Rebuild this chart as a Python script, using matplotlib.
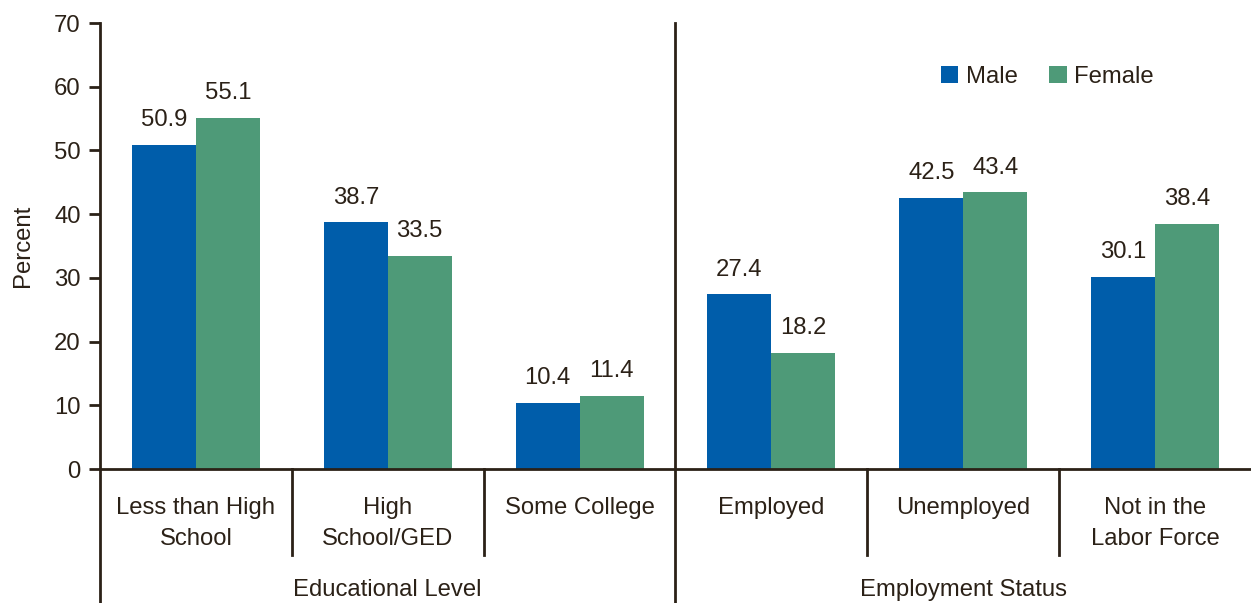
import matplotlib.pyplot as plt
import numpy as np

plt.rcParams['font.family'] = ['Liberation Sans', 'DejaVu Sans']

categories = ['Less than High\nSchool', 'High\nSchool/GED', 'Some College',
              'Employed', 'Unemployed', 'Not in the\nLabor Force']
groups = ['Educational Level', 'Employment Status']
male = [50.9, 38.7, 10.4, 27.4, 42.5, 30.1]
female = [55.1, 33.5, 11.4, 18.2, 43.4, 38.4]

ink = '#2b2117'
blue = '#005daa'
green = '#4e9a78'
fs = 17.2

fig = plt.figure(figsize=(12.51, 6.03), dpi=100)
ax = fig.add_axes([100/1251, 134/603, 1151/1251, 446/603])

x = np.arange(len(categories))
w = 1/3
ax.bar(x - w/2, male, width=w, color=blue, label='Male')
ax.bar(x + w/2, female, width=w, color=green, label='Female')

for xi, m, f in zip(x, male, female):
    ax.annotate(f'{m:.1f}', (xi - w/2, m), xytext=(0, 10), textcoords='offset points',
                ha='center', va='bottom', fontsize=fs, color=ink)
    ax.annotate(f'{f:.1f}', (xi + w/2, f), xytext=(0, 10), textcoords='offset points',
                ha='center', va='bottom', fontsize=fs, color=ink)

ax.set_xlim(-0.5, len(categories) - 0.5)
ax.set_ylim(0, 70)
ax.set_yticks(range(0, 71, 10))
ax.set_xticks([])
ax.tick_params(axis='y', direction='out', length=8, width=2, color=ink,
               labelsize=fs, labelcolor=ink, pad=6)
ax.set_ylabel('Percent', fontsize=fs, color=ink, labelpad=14)

for s in ['top', 'right']:
    ax.spines[s].set_visible(False)
for s in ['left', 'bottom']:
    ax.spines[s].set_color(ink)
    ax.spines[s].set_linewidth(2)

trans = ax.get_xaxis_transform()
# extended left spine and group separators
ax.plot([-0.5, -0.5], [0, -0.31], transform=trans, color=ink, lw=2, clip_on=False)
ax.plot([2.5, 2.5], [1, -0.31], transform=trans, color=ink, lw=2, clip_on=False)
for b in [0.5, 1.5, 3.5, 4.5]:
    ax.plot([b, b], [0, -0.193], transform=trans, color=ink, lw=2, clip_on=False)

for xi, c in zip(x, categories):
    ax.text(xi, -0.062, c, transform=trans, ha='center', va='top', fontsize=fs,
            color=ink, linespacing=1.55)
for gx, g in zip([1, 4], groups):
    ax.text(gx, -0.272, g, transform=trans, ha='center', va='center', fontsize=fs,
            color=ink)

ax.legend(loc='center left', bbox_to_anchor=(0.722, 0.879), ncol=2, frameon=False,
          fontsize=fs, handlelength=0.75, handleheight=0.75, handletextpad=0.3,
          columnspacing=1.3, borderaxespad=0, labelcolor=ink)

fig.savefig('out.png', dpi=100)
